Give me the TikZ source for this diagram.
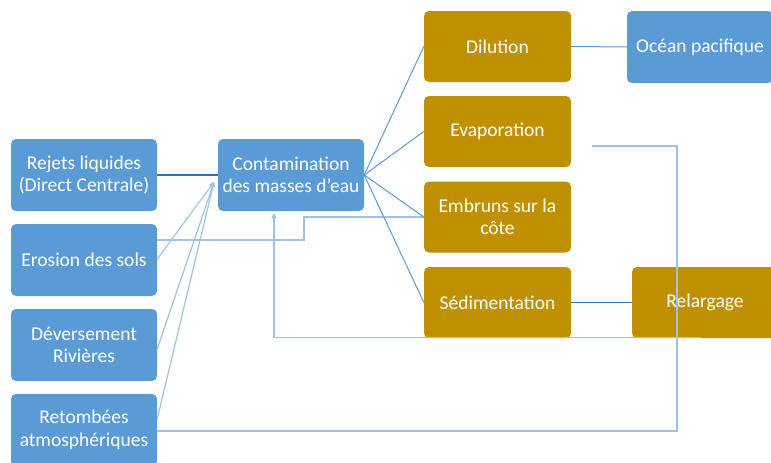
\documentclass[tikz,border=0pt]{standalone}
\usepackage{fontspec}
\setmainfont{Carlito}
\usetikzlibrary{calc,arrows.meta}
\definecolor{bboxc}{HTML}{5B9BD5}
\definecolor{gboxc}{HTML}{BF9000}
\definecolor{llinec}{HTML}{9DC3E6}
\definecolor{mlinec}{HTML}{5B9BD5}
\definecolor{dlinec}{HTML}{2E75B6}
\begin{document}
\begin{tikzpicture}[x=1pt,y=-1pt,
  boxb/.style={draw=none,fill=bboxc,rounded corners=5pt,minimum width=146pt,minimum height=72pt,
    text=white,align=center,font=\fontsize{19.5}{22.5}\selectfont,inner sep=0pt},
  boxg/.style={boxb,fill=gboxc,minimum width=147pt,minimum height=71pt},
  lline/.style={draw=llinec,line width=1.2pt},
  mline/.style={draw=mlinec,line width=1pt},
  dline/.style={draw=dlinec,line width=1.3pt},
  tip/.style={-{Triangle[length=5pt,width=5pt]}}]
\useasboundingbox (0,0) rectangle (771,463);
\begin{scope}
\clip (0,0) rectangle (771,463);
\node[boxb] (rej) at (84,175) {Rejets liquides\\(Direct Centrale)};
\node[boxb] (ero) at (84,260) {Erosion des sols};
\node[boxb] (dev) at (84,345) {Déversement\\Rivières};
\node[boxb] (ret) at (84,430) {Retombées\\atmosphériques};
\node[boxb] (con) at (291,175) {Contamination\\des masses d’eau};
\node[boxg] (dil) at (497.5,46.5) {Dilution};
\node[boxg] (eva) at (497.5,131.5) {Evaporation};
\node[boxg] (emb) at (497.5,217) {Embruns sur la\\côte};
\node[boxg] (sed) at (497.5,302.5) {Sédimentation};
\node[boxb] (oce) at (700,47) {Océan pacifique};
\node[boxg,minimum width=146pt] (rel) at (705,302.5) {Relargage};

\coordinate (arr) at (214,182);
\coordinate (conin) at (274,213);
\coordinate (evout) at (592,146);
\coordinate (relout) at (701,337.5);

\draw[dline] (rej.east) -- (rej.east -| con.west);
\draw[lline,tip] ($(ero.east)+(0,-1)$) -- (arr);
\draw[lline,tip] ($(dev.east)+(0,4)$) -- (arr);
\draw[lline,tip] ($(ret.east)+(0,-11)$) -- (arr);
\draw[lline] ($(ero.east)+(0,-20)$) -- (304,240) -- (304,217) -- (emb.west);
\draw[lline,tip] (relout) -- (relout -| conin) -- (conin);
\draw[lline] (evout) -- (677,146) -- (677,431) -- (ret.east |- 0,431);
\draw[mline] (con.east) -- (dil.west);
\draw[mline] (con.east) -- (eva.west);
\draw[mline] (con.east) -- (emb.west);
\draw[mline] (con.east) -- (sed.west);
\draw[mline] (dil.east) -- (oce.west);
\draw[dline] (sed.east) -- (rel.west);
\end{scope}
\end{tikzpicture}
\end{document}
